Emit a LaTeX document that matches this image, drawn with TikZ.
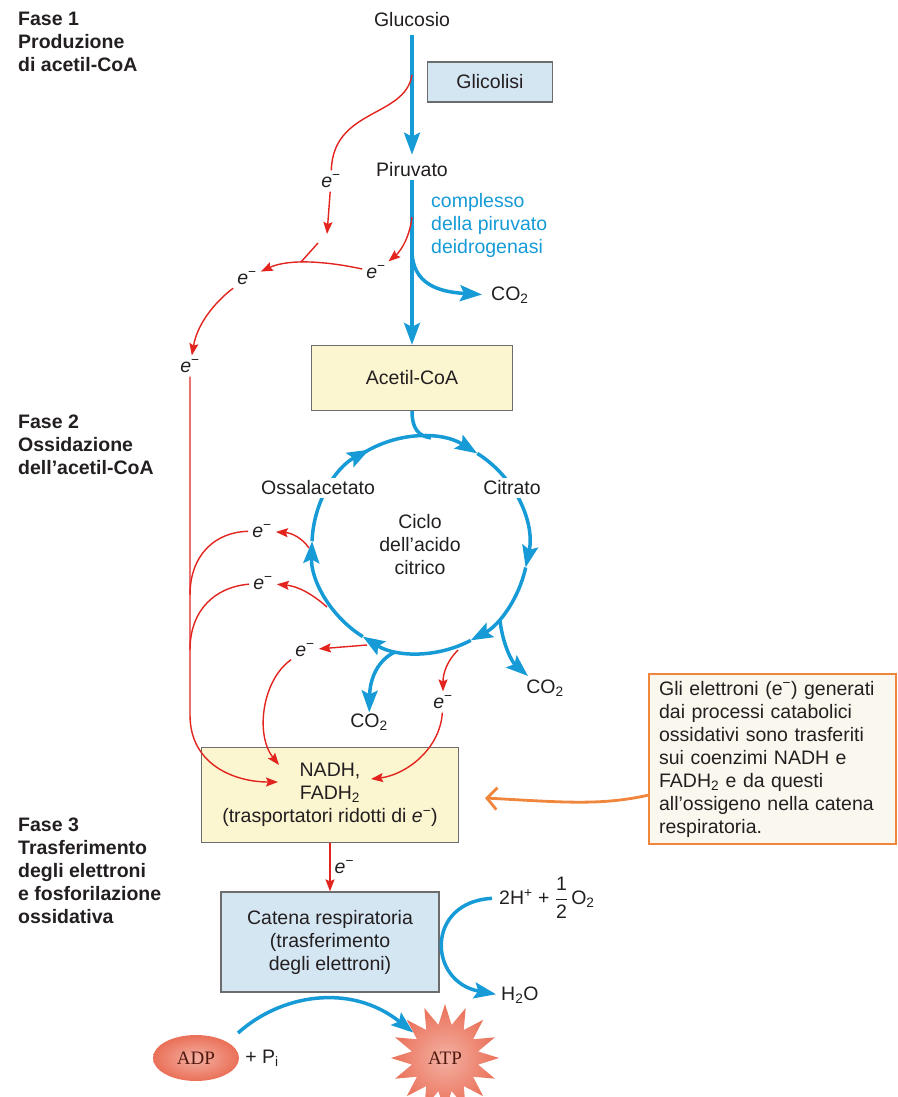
\documentclass[tikz,border=0pt]{standalone}
\usepackage{amsmath}
\usepackage{fontspec}
\setmainfont{Liberation Sans}
\newfontfamily\serifatp{Liberation Serif}
\usetikzlibrary{positioning,shapes.geometric,arrows.meta}
\definecolor{ink}{RGB}{35,31,32}
\definecolor{cblue}{RGB}{22,155,215}
\definecolor{cred}{RGB}{226,35,30}
\definecolor{corange}{RGB}{240,133,60}
\definecolor{boxblue}{RGB}{213,230,243}
\definecolor{boxyellow}{RGB}{251,246,208}
\definecolor{notefill}{RGB}{250,247,238}
\definecolor{atpred}{RGB}{234,112,88}
\definecolor{atpink}{RGB}{80,25,15}
\tikzset{node distance=2cm, auto,
  fase/.style={anchor=north west, align=left, font=\fontsize{19.5}{23}\selectfont\bfseries},
  boxy/.style={draw=gray!85!black, line width=1.3pt, fill=boxyellow},
  boxb/.style={draw=gray!85!black, line width=1.3pt, fill=boxblue},
  el/.style={inner sep=4pt},
  bluearr/.style={cblue, line width=3.5pt, -{Stealth[length=22pt,width=16pt,inset=4pt]}},
  blueline/.style={cblue, line width=3.5pt},
  redarr/.style={cred, line width=1.4pt, -{Stealth[length=12pt,width=9pt,inset=2pt]}},
  redline/.style={cred, line width=1.4pt},
  pill/.style={ellipse, minimum width=86, minimum height=46, inner color=atpred!55!white, outer color=atpred,
    text=atpink, font=\serifatp\fontsize{19}{22}\selectfont},
}
\newcommand{\el}{\textit{e}\textsuperscript{−}}

\begin{document}
\begin{tikzpicture}[x=1pt, y=-1pt,
  every node/.style={font=\fontsize{19.5}{23}\selectfont, text=ink, inner sep=1pt, align=center}]
\useasboundingbox (0,0) rectangle (897,1097);

% fasi
\node[fase] (f1) at (17,11) {Fase 1\\Produzione\\di acetil-CoA};
\node[fase] (f2) at (17,414) {Fase 2\\Ossidazione\\dell’acetil-CoA};
\node[fase] (f3) at (17,817) {Fase 3\\Trasferimento\\degli elettroni\\e fosforilazione\\ossidativa};

% glicolisi
\node (gluc) at (412,20) {Glucosio};
\node[boxb, minimum width=125, minimum height=40] (glic) at (490,82) {Glicolisi};
\node (piru) at (412,170) {Piruvato};
\node[text=cblue, align=left, anchor=west] (pdh) at (430,225) {complesso\\della piruvato\\deidrogenasi};
\node[anchor=west] (co2a) at (490,295) {CO\textsubscript{2}};
\node[boxy, minimum width=201, minimum height=65] (acoa) at (412,378) {Acetil-CoA};

\draw[bluearr, shorten <=7pt, shorten >=7pt] (gluc) -- (piru);
\draw[bluearr, shorten <=2pt] (piru) -- (acoa);
\coordinate (br1) at (412,250);
\draw[bluearr, shorten >=8pt] (br1) .. controls (412,285) and (440,292) .. (co2a.west);

% elettroni della fase 1
\coordinate (g1) at (412,75);
\coordinate (g2) at (412,217);
\coordinate (k1) at (327,234);
\coordinate (jn) at (301,262);
\node[el] (e1) at (331,181) {\el};
\node[el] (e2) at (376,272) {\el};
\node[el] (e3) at (247,278) {\el};
\node[el] (e5) at (190,366) {\el};
\draw[redline] (g1) .. controls (405,118) and (333,108) .. (e1);
\draw[redarr] (e1) -- (k1);
\draw[redline] (318,243) -- (jn);
\draw[redarr] (g2) .. controls (410,235) and (402,250) .. (e2);
\draw[redarr] (e2) .. controls (330,262) and (290,258) .. (e3);
\draw[redarr] (e3) .. controls (220,298) and (198,320) .. (e5);

% ciclo
\coordinate (cyc) at (420,545);
\coordinate (ctop) at (431,438);
\foreach \a/\b in {-125/-58, -58/12, 12/62, 62/122, 122/182, 182/242}
  \draw[bluearr] (cyc) ++(\a:108) arc[start angle=\a, end angle=\b, radius=108];
\draw[blueline] (acoa.south) .. controls (412,428) and (418,436) .. (ctop);
\node[fill=white, inner sep=3pt] (oxa) at (318,488) {Ossalacetato};
\node[fill=white, inner sep=3pt] (cit) at (512,488) {Citrato};
\node (ciclo) at (420,545) {Ciclo\\dell’acido\\citrico};

\coordinate (c1) at (500,621);
\coordinate (c2) at (395,652);
\node (co2b) at (545,688) {CO\textsubscript{2}};
\node (co2c) at (369,722) {CO\textsubscript{2}};
\draw[bluearr] (c1) .. controls (503,645) and (512,662) .. (528,676);
\draw[bluearr] (c2) .. controls (378,660) and (370,678) .. (co2c);

% elettroni della fase 2
\coordinate (r1) at (309,548);
\coordinate (r2) at (327,607);
\coordinate (r3) at (367,645);
\coordinate (r4) at (458,650);
\node[el] (e6) at (262,531) {\el};
\node[el] (e7) at (263,583) {\el};
\node[el] (e8) at (305,650) {\el};
\node[el] (e9) at (443,702) {\el};
\draw[redarr] (r1) .. controls (302,538) and (292,533) .. (e6);
\draw[redarr] (r2) .. controls (310,592) and (296,586) .. (e7);
\draw[redarr] (r3) -- (e8);
\draw[redarr] (r4) .. controls (448,660) and (443,672) .. (e9);

% NADH
\node[boxy, minimum width=257, minimum height=95] (nadh) at (330,795) {NADH,\\FADH\textsubscript{2}\\(trasportatori ridotti di \el)};
\coordinate (n1) at (278,782);
\coordinate (n2) at (279,765);
\coordinate (n3) at (371,779);
\draw[redarr] (e5) -- (190,715) .. controls (190,765) and (235,782) .. (n1);
\draw[redline] (e6) .. controls (215,532) and (190,555) .. (190,595);
\draw[redline] (e7) .. controls (215,587) and (190,610) .. (190,650);
\draw[redarr] (e8) .. controls (262,680) and (255,735) .. (n2);
\draw[redarr] (e9) .. controls (440,750) and (405,775) .. (n3);

% catena respiratoria
\node[boxb, minimum width=218, minimum height=100] (cat) at (330,942) {Catena respiratoria\\(trasferimento\\degli elettroni)};
\draw[redarr] (nadh) -- node[right, el] {\el} (cat);
\node[anchor=west] (hplus) at (498,898) {2H\textsuperscript{+} + $\dfrac{\text{1}}{\text{2}}$\,O\textsubscript{2}};
\node[anchor=west] (water) at (500,995) {H\textsubscript{2}O};
\draw[bluearr, shorten <=6pt, shorten >=4pt] (hplus.west) .. controls (425,902) and (428,982) .. (water.west);

% ATP
\node[pill] (adp) at (196,1058) {ADP};
\node (pi) [right=5pt of adp] {+ P\textsubscript{i}};
\node[star, star points=16, star point ratio=1.6, minimum size=108, inner color=atpred!55!white, outer color=atpred,
  text=atpink, font=\serifatp\fontsize{19}{22}\selectfont] (atp) at (445,1058) {ATP};
\coordinate (b0) at (238,1033);
\draw[bluearr] (b0) .. controls (280,995) and (350,982) .. (atp);

% nota
\node[draw=corange, line width=2.2pt, fill=notefill, anchor=north west, align=left, text width=227, inner xsep=10, inner ysep=7] (note) at (648,673)
  {Gli elettroni (e\textsuperscript{−}) generati\\dai processi catabolici\\ossidativi sono trasferiti\\sui coenzimi NADH e\\FADH\textsubscript{2} e da questi\\all’ossigeno nella catena\\respiratoria.};
\coordinate (nt) at (485,798);
\draw[corange, line width=2.8pt, -{Straight Barb[length=10pt,width=22pt]}] ([yshift=-36pt]note.west) .. controls (600,806) and (560,802) .. (nt);
\end{tikzpicture}
\end{document}
